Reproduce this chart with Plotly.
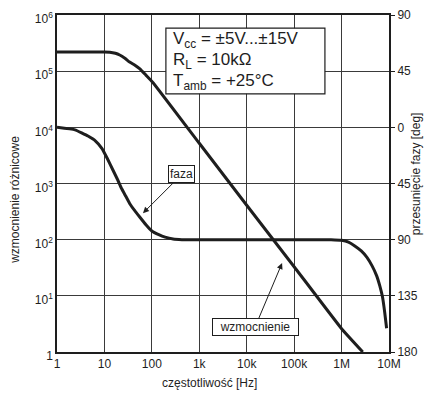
import plotly.graph_objects as go

# ---- data ----
freq_gain = [1, 10, 13, 17, 21, 27, 34, 44, 56, 75, 105, 1000, 10000, 100000, 1000000, 2800000]
gain = [2.2e5, 2.2e5, 2.18e5, 2.08e5, 1.94e5, 1.7e5, 1.45e5, 1.28e5, 1.1e5, 8.5e4, 6.3e4,
        5.2e3, 4.1e2, 33, 2.6, 1.0]

freq_phase = [1, 2.4, 4.5, 6.5, 8.9, 11.5, 15, 19, 23, 28, 34, 44, 56, 75, 100, 140, 190,
              280, 430, 1e4, 1e5, 6e5, 1.0e6, 1.4e6, 1.9e6, 2.6e6, 3.4e6, 4.4e6, 5.5e6,
              6.4e6, 7.3e6, 8.1e6, 8.9e6]
phase = [0, -2, -7, -11, -17, -25, -34, -42, -49, -55, -61, -67, -72, -78, -83, -86, -88,
         -89.5, -90, -90, -90, -90, -90.5, -92, -95, -99, -104, -111, -119,
         -127, -136, -148, -161]

x_tickvals = [1, 10, 100, 1e3, 1e4, 1e5, 1e6, 1e7]
x_ticktext = ["1", "10", "100", "1k", "10k", "100k", "1M", "10M"]
y_tickvals = [1, 10, 100, 1e3, 1e4, 1e5, 1e6]
y_ticktext = ["1", "10<sup>1</sup>", "10<sup>2</sup>", "10<sup>3</sup>",
              "10<sup>4</sup>", "10<sup>5</sup>", "10<sup>6</sup>"]
p_tickvals = [90, 45, 0, -45, -90, -135, -180]
p_ticktext = ["90", "45", "0", "45", "90", "135", "180"]

cond_lines = ["V<sub>cc</sub> = ±5V...±15V", "R<sub>L</sub> = 10kΩ", "T<sub>amb</sub> = +25°C"]

FONT = "Liberation Sans, Arial, sans-serif"
INK = "#1e1e1e"
GRID = "#3a3a3a"

fig = go.Figure()
fig.add_trace(go.Scatter(x=freq_gain, y=gain, mode="lines",
                         line=dict(color=INK, width=3, shape="spline", smoothing=0.3),
                         showlegend=False))
fig.add_trace(go.Scatter(x=freq_phase, y=phase, mode="lines", yaxis="y2",
                         line=dict(color=INK, width=3, shape="spline", smoothing=0.3),
                         showlegend=False))

# page body has an 8px margin, so the margins are shifted to compensate
fig.update_layout(
    width=432, height=394,
    margin=dict(l=49, r=51, t=7, b=50),
    paper_bgcolor="white", plot_bgcolor="white",
    font=dict(family=FONT, size=12, color=INK),
    xaxis=dict(type="log", range=[0, 7], tickvals=x_tickvals, ticktext=x_ticktext,
               showgrid=True, gridcolor=GRID, gridwidth=1, automargin=False,
               showline=True, linecolor=INK, linewidth=1.5, mirror=True,
               ticks="", zeroline=False, tickfont=dict(size=12),
               ticklabeloverflow="allow"),
    yaxis=dict(type="log", range=[0, 6], tickvals=y_tickvals, ticktext=y_ticktext,
               showgrid=True, gridcolor=GRID, gridwidth=1, automargin=False,
               showline=True, linecolor=INK, linewidth=1.5, mirror=True,
               ticks="", zeroline=False, tickfont=dict(size=12),
               ticklabeloverflow="allow", ticklabelshift=4),
    yaxis2=dict(overlaying="y", side="right", range=[-180, 90], automargin=False,
                tickvals=p_tickvals, ticktext=p_ticktext, showgrid=False,
                ticks="outside", ticklen=5, tickcolor=INK, zeroline=False,
                tickfont=dict(size=12), ticklabeloverflow="allow"),
)

# conditions box
fig.add_shape(type="rect", xref="paper", yref="paper", x0=0.328, x1=0.807,
              y0=0.766, y1=0.961, line=dict(color=INK, width=1.2), fillcolor="white",
              layer="above")

annotations = []
for txt, yy in zip(cond_lines, [0.926, 0.864, 0.801]):
    annotations.append(dict(xref="paper", yref="paper", x=0.343, y=yy,
                            xanchor="left", yanchor="middle", showarrow=False,
                            text=txt, font=dict(size=17, color=INK)))

annotations += [
    # faza label
    dict(xref="paper", yref="paper", x=0.259, y=0.412, ax=39, ay=-39,
         axref="pixel", ayref="pixel", text="faza", showarrow=True,
         arrowhead=2, arrowsize=1.2, arrowwidth=1, arrowcolor=INK,
         font=dict(size=12, color=INK), bgcolor="white",
         bordercolor=INK, borderwidth=1, borderpad=1),
    # wzmocnienie label
    dict(xref="paper", yref="paper", x=0.678, y=0.264, ax=-27, ay=64,
         axref="pixel", ayref="pixel", text="  wzmocnienie  ", showarrow=True,
         arrowhead=2, arrowsize=1.2, arrowwidth=1, arrowcolor=INK,
         font=dict(size=12, color=INK), bgcolor="white",
         bordercolor=INK, borderwidth=1, borderpad=1),
    # axis titles
    dict(xref="paper", yref="paper", x=-0.125, y=0.45, xanchor="center", yanchor="middle",
         showarrow=False, textangle=-90, text="wzmocnienie różnicowe",
         font=dict(size=12, color=INK)),
    dict(xref="paper", yref="paper", x=1.081, y=0.53, xanchor="center", yanchor="middle",
         showarrow=False, textangle=-90, text="przesunięcie fazy [deg]",
         font=dict(size=12, color=INK)),
    dict(xref="paper", yref="paper", x=0.46, y=-0.092, xanchor="center", yanchor="middle",
         showarrow=False, text="częstotliwość [Hz]", font=dict(size=12, color=INK)),
]
fig.update_layout(annotations=annotations)

fig.write_html("out.html")
